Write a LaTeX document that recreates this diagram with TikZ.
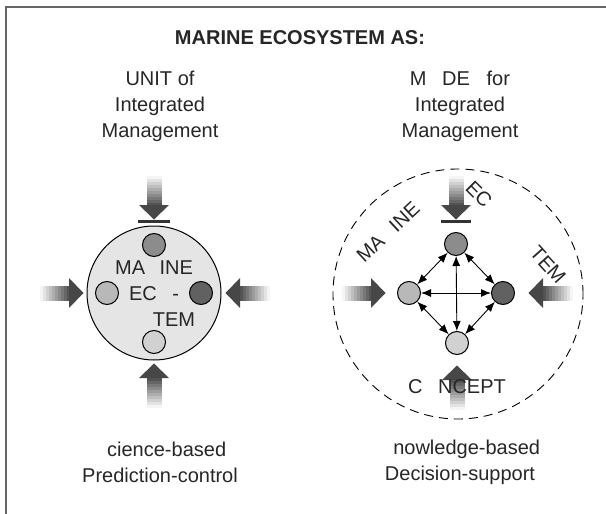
\documentclass[tikz,border=0pt]{standalone}
\usepackage{fontspec}
\setmainfont{Liberation Sans}
\usetikzlibrary{arrows.meta}

\begin{document}
\begin{tikzpicture}[x=1pt, y=-1pt, font=\fontsize{20}{26}\selectfont, text=black!85,
                    label node/.style={align=center, inner sep=0pt},
                    part node/.style={circle, draw, line width=1pt, minimum size=23pt, inner sep=0pt},
                    link/.style={line width=0.9pt, {Latex[length=10pt,width=8pt]}-{Latex[length=10pt,width=8pt]}},
                    bar/.style={line width=2.2pt, black!80},
                    fatarrow/.pic={
                      \foreach \k [evaluate=\k as \g using int(4+7*\k)] in {0,...,9}
                        \fill[black!\g] ({-44+3*\k},-7.5) rectangle ({-40.6+3*\k},7.5);
                      \fill[black!72] (-14.5,-15) -- (0,0) -- (-14.5,15) -- cycle;
                    }]

  \useasboundingbox (0,0) rectangle (606,514);
  \draw[black!60, line width=2pt] (606,7) -- (5.5,7) -- (5.5,514);

  \node[label node, font=\fontsize{20}{26}\selectfont\bfseries] (title) at (300,38) {MARINE ECOSYSTEM AS:};
  \node[label node] (unit) at (160,106) {UNIT of\\Integrated\\Management};
  \node[label node] (model) at (460,106) {M\phantom{O}DE\phantom{L} for\\Integrated\\Management};

  % unit of management
  \node[circle, draw, line width=1pt, fill=black!10, minimum size=134pt] (eco) at (154,293) {};
  \node[part node, fill=black!45] (ct) at (154,245) {};
  \node[part node, fill=black!28] (cl) at (107,293) {};
  \node[part node, fill=black!62] (cr) at (201,293) {};
  \node[part node, fill=black!18] (cb) at (154,342) {};
  \node[label node] (ecotext) at (154,294) {MA\phantom{R}INE\\EC\phantom{O}-\\\phantom{SYS}TEM};

  \pic[rotate=-90] at ([yshift=6pt]eco.north) {fatarrow};
  \pic at ([xshift=-3pt]eco.west) {fatarrow};
  \pic[rotate=180] at ([xshift=4pt]eco.east) {fatarrow};
  \pic[rotate=90] at ([yshift=-3pt]eco.south) {fatarrow};
  \draw[bar] ([xshift=-16pt,yshift=4pt]eco.north) -- ([xshift=16pt,yshift=4pt]eco.north);

  % model of management
  \node[circle, draw, dashed, dash pattern=on 9pt off 6pt, line width=0.9pt, minimum size=250pt] (concept) at (458,294) {};
  \node[part node, fill=black!45] (nt) at (456,244) {};
  \node[part node, fill=black!28] (nl) at (409,293) {};
  \node[part node, fill=black!62] (nr) at (503,293) {};
  \node[part node, fill=black!18] (nb) at (457,343) {};

  \path[link]
    (nt) edge (nl)
         edge (nr)
         edge (nb)
    (nl) edge (nr)
         edge (nb)
    (nr) edge (nb);

  \pic[rotate=-90] at ([yshift=12.5pt]nt.north) {fatarrow};
  \pic at ([xshift=-11.5pt]nl.west) {fatarrow};
  \pic[rotate=180] at ([xshift=13.5pt]nr.east) {fatarrow};
  \pic[rotate=90] at ([yshift=-10.5pt]nb.south) {fatarrow};
  \draw[bar] ([xshift=-15pt,yshift=10.5pt]nt.north) -- ([xshift=15pt,yshift=10.5pt]nt.north);

  \node[label node, rotate=43] (marine) at (388,232) {MA\phantom{R}INE};
  \node[label node, rotate=-45] (ec) at (479,194) {EC};
  \node[label node, rotate=-48] (tem) at (548,265) {TEM};
  \node[label node] (concepttext) at (457,387) {C\phantom{O}NCEPT};

  \node[label node] (science) at (160,462) {\phantom{S}cience-based\\Prediction-control};
  \node[label node] (knowledge) at (460,462) {\phantom{K}nowledge-based\\Decision-support};
\end{tikzpicture}
\end{document}
